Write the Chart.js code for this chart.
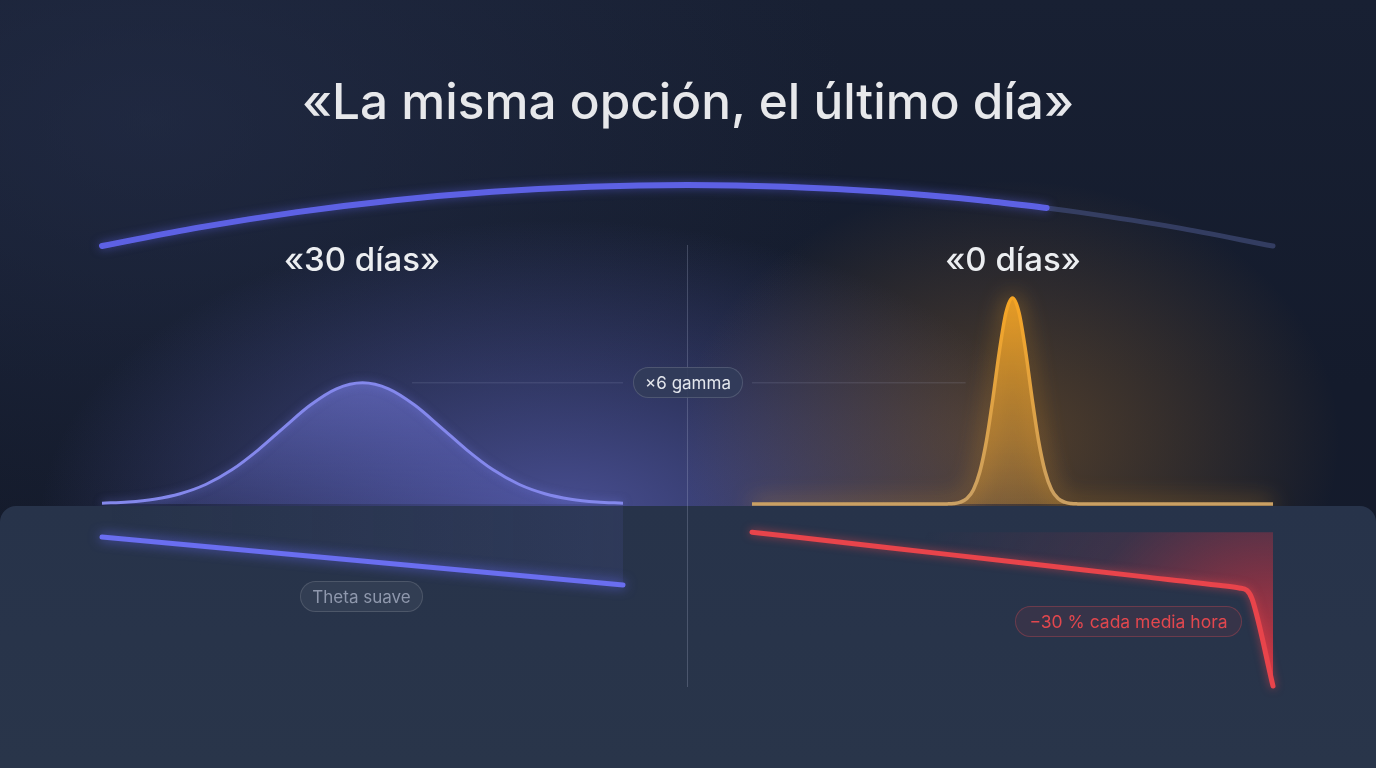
<!DOCTYPE html>
<html lang="es">
<head>
<meta charset="utf-8">
<title>La misma opción, el último día</title>
<script src="https://cdn.jsdelivr.net/npm/chart.js@4.4.1/dist/chart.umd.min.js"></script>
<style>
html, body { margin: 0; padding: 0; }
body {
    width: 1376px; height: 768px; overflow: hidden; position: relative;
    background: #151c2d;
    font-family: Inter, "Noto Sans", sans-serif;
}
#bg {
    position: absolute; left: 0; top: 0; width: 1376px; height: 768px; z-index: 0;
    background:
        radial-gradient(ellipse 330px 260px at 1010px 440px, rgba(214,140,45,0.32), rgba(214,140,45,0) 100%),
        radial-gradient(ellipse 520px 300px at 560px 520px, rgba(82,88,165,0.85), rgba(82,88,165,0) 100%),
        radial-gradient(ellipse 700px 420px at 150px 120px, rgba(40,50,80,0.5), rgba(40,50,80,0) 100%),
        linear-gradient(180deg, #182033 0%, #141b2c 50%, #151b2b 100%);
}
#panel {
    position: absolute; left: 0; top: 506px; width: 1376px; height: 262px; z-index: 2;
    background: linear-gradient(180deg, #27334a 0%, #29354a 100%);
    border-radius: 16px 16px 0 0;
}
#divider {
    position: absolute; left: 687px; top: 245px; width: 1px; height: 442px; z-index: 4;
    background: rgba(200,210,235,0.22);
}
canvas { position: absolute; }
#arcChart { left: 78px; top: 161px; z-index: 1; }
#gammaLeft { left: 78px; top: 274px; z-index: 1; }
#gammaRight { left: 728px; top: 274px; z-index: 1; }
#thetaLeft { left: 78px; top: 482px; z-index: 3; }
#thetaRight { left: 728px; top: 482px; z-index: 3; }
.txt { position: absolute; z-index: 5; white-space: nowrap; line-height: 1; }
#title { left: 0; width: 1376px; top: 77px; text-align: center; font-size: 49.5px; font-weight: 500; color: #e7e8eb; }
.head { top: 243px; width: 300px; text-align: center; font-size: 33px; font-weight: 500; color: #eceef1; }
#head30 { left: 212px; }
#head0 { left: 863px; }
.pill {
    position: absolute; z-index: 5; box-sizing: border-box; height: 31px;
    display: flex; align-items: center; justify-content: center;
    border-radius: 16px; font-size: 16px; white-space: nowrap;
}
#pillGamma { left: 633px; top: 367px; width: 110px; background: rgba(50,60,90,0.92); border: 1px solid rgba(255,255,255,0.14); color: #e3e6ec; font-size: 17px; }
#pillTheta { left: 300px; top: 581px; width: 123px; background: rgba(255,255,255,0.05); border: 1px solid rgba(255,255,255,0.13); color: #8f98ad; font-size: 17px; }
#pillDrop { left: 1015px; top: 606px; width: 227px; background: rgba(200,60,70,0.10); border: 1px solid rgba(220,75,85,0.32); color: #e2474e; font-size: 17.5px; }
</style>
</head>
<body>
<div id="bg"></div>
<canvas id="arcChart" width="1219" height="109"></canvas>
<canvas id="gammaLeft" width="569" height="254"></canvas>
<canvas id="gammaRight" width="569" height="254"></canvas>
<div id="panel"></div>
<canvas id="thetaLeft" width="569" height="228"></canvas>
<canvas id="thetaRight" width="569" height="228"></canvas>
<div id="divider"></div>

<div class="txt" id="title">«La misma opción, el último día»</div>
<div class="txt head" id="head30">«30 días»</div>
<div class="txt head" id="head0">«0 días»</div>
<div class="pill" id="pillGamma">×6 gamma</div>
<div class="pill" id="pillTheta">Theta suave</div>
<div class="pill" id="pillDrop">−30 % cada media hora</div>

<script>
// time arc across the top (days to expiry)
const arcDays = [30, 27.5, 25, 22.5, 20, 17.5, 15, 12.5, 10, 7.5, 5.8, 5, 2.5, 0];
const arcLevel = [0, 18.6, 33.9, 45.8, 54.2, 59.3, 61, 59.3, 54.2, 45.8, 38.1, 33.9, 18.6, 0];
const arcElapsedUntil = 5.8; // bright part ends here

// gamma vs strike distance (% from spot), 30 days left
const strikes30 = [-10, -9, -8, -7, -6, -5, -4, -3, -2, -1, 0, 1, 2, 3, 4, 5, 6, 7, 8, 9, 10];
const gamma30 = [0.007, 0.017, 0.04, 0.085, 0.163, 0.284, 0.447, 0.635, 0.817, 0.951, 1.0,
                 0.951, 0.817, 0.635, 0.447, 0.284, 0.163, 0.085, 0.04, 0.017, 0.007];
// gamma on the last day
const strikes0 = [-10, -5, -3, -2.5, -2.25, -2, -1.75, -1.5, -1.25, -1, -0.75, -0.5, -0.25, 0,
                  0.25, 0.5, 0.75, 1, 1.25, 1.5, 1.75, 2, 2.25, 2.5, 3, 5, 10];
const gamma0 = [0, 0, 0, 0.001, 0.004, 0.015, 0.045, 0.118, 0.268, 0.521, 0.873, 1.265, 1.579, 1.7,
                1.579, 1.265, 0.873, 0.521, 0.268, 0.118, 0.045, 0.015, 0.004, 0.001, 0, 0, 0];
const gammaMax = 1.7;

// option value vs % of the window elapsed
const time30 = [0, 50, 100];
const theta30 = [96.8, 81.2, 65.6];
const time0 = [0, 25, 50, 75, 90, 93.5, 95, 96, 100];
const theta0 = [100, 90.4, 80.7, 71.1, 65.3, 63.7, 62.2, 56.5, 0];
const thetaMax = 117;

const PAD = 24;

// glow under the stroke (fill is drawn before this by the filler)
Chart.register({
    id: 'glow',
    beforeDatasetDraw(chart, args) {
        const ds = chart.data.datasets[args.index];
        chart.ctx.save();
        if (ds.glow) {
            chart.ctx.shadowColor = ds.glow;
            chart.ctx.shadowBlur = ds.glowBlur || 14;
        }
    },
    afterDatasetDraw(chart) {
        chart.ctx.restore();
    }
});

function pts(xs, ys) {
    return xs.map((x, i) => ({ x: x, y: ys[i] }));
}

function makeChart(id, datasets, xMin, xMax, yMax, reverse) {
    return new Chart(document.getElementById(id), {
        type: 'line',
        data: { datasets: datasets },
        options: {
            responsive: false,
            animation: false,
            events: [],
            layout: { padding: PAD },
            plugins: { legend: { display: false }, tooltip: { enabled: false } },
            elements: { point: { radius: 0 } },
            scales: {
                x: { type: 'linear', display: false, min: xMin, max: xMax, reverse: !!reverse },
                y: { display: false, min: 0, max: yMax }
            }
        }
    });
}

// arc
const brightDays = arcDays.filter(d => d >= arcElapsedUntil);
const brightLevel = arcLevel.slice(0, brightDays.length);
makeChart('arcChart', [
    {
        data: pts(brightDays, brightLevel), borderColor: '#5d61e4', borderWidth: 6,
        borderCapStyle: 'round', cubicInterpolationMode: 'monotone', clip: false,
        glow: 'rgba(95,100,235,0.55)', glowBlur: 10
    },
    {
        data: pts(arcDays, arcLevel), borderColor: 'rgba(62,72,115,0.75)', borderWidth: 5,
        borderCapStyle: 'round', cubicInterpolationMode: 'monotone', clip: false
    }
], 0, 30, 61, true);

// gamma curves
const peakRef = Math.max(...gamma30);

function vGrad(ctx, area, top, bottom) {
    const g = ctx.createLinearGradient(0, area.top, 0, area.bottom);
    g.addColorStop(0, top);
    g.addColorStop(1, bottom);
    return g;
}

makeChart('gammaLeft', [
    {
        data: pts(strikes30, gamma30), borderColor: '#8488ec', borderWidth: 3,
        cubicInterpolationMode: 'monotone', clip: false, fill: 'origin',
        backgroundColor: c => c.chart.chartArea ? vGrad(c.chart.ctx, c.chart.chartArea, 'rgba(135,140,245,0.8)', 'rgba(100,106,205,0.25)') : 'rgba(0,0,0,0)',
        glow: 'rgba(120,125,240,0.5)', glowBlur: 8
    },
    {
        data: [{ x: 1.9, y: peakRef }, { x: 10, y: peakRef }],
        borderColor: 'rgba(200,210,240,0.16)', borderWidth: 1, clip: false
    }
], -10, 10, gammaMax);

makeChart('gammaRight', [
    {
        data: pts(strikes0, gamma0), borderWidth: 3.5,
        borderColor: c => c.chart.chartArea ? vGrad(c.chart.ctx, c.chart.chartArea, '#f6a524', '#caa063') : '#f6a524',
        cubicInterpolationMode: 'monotone', clip: false, fill: 'origin',
        backgroundColor: c => c.chart.chartArea ? vGrad(c.chart.ctx, c.chart.chartArea, 'rgba(246,165,36,0.9)', 'rgba(225,160,60,0.35)') : 'rgba(0,0,0,0)',
        glow: 'rgba(246,165,36,0.9)', glowBlur: 22
    },
    {
        data: [{ x: -10, y: peakRef }, { x: -1.8, y: peakRef }],
        borderColor: 'rgba(200,210,240,0.16)', borderWidth: 1, clip: false
    }
], -10, 10, gammaMax);

// theta lines
makeChart('thetaLeft', [
    {
        data: pts(time30, theta30), borderColor: '#6a6ef0', borderWidth: 5,
        borderCapStyle: 'round', tension: 0, clip: false,
        fill: { value: thetaMax },
        backgroundColor: c => {
            const a = c.chart.chartArea;
            if (!a) return 'rgba(0,0,0,0)';
            const g = c.chart.ctx.createLinearGradient(a.left, 0, a.right, 0);
            g.addColorStop(0, 'rgba(110,115,230,0)');
            g.addColorStop(1, 'rgba(110,115,230,0.10)');
            return g;
        },
        glow: 'rgba(100,105,245,0.8)', glowBlur: 12
    }
], 0, 100, thetaMax);

makeChart('thetaRight', [
    {
        data: pts(time0, theta0), borderColor: '#e8444b', borderWidth: 5,
        borderCapStyle: 'round', borderJoinStyle: 'round', cubicInterpolationMode: 'monotone', clip: false,
        fill: { value: theta0[0] },
        backgroundColor: c => {
            const a = c.chart.chartArea;
            if (!a) return 'rgba(0,0,0,0)';
            const g = c.chart.ctx.createRadialGradient(a.right, a.bottom, 0, a.right, a.bottom, 380);
            g.addColorStop(0, 'rgba(230,55,65,0.95)');
            g.addColorStop(0.3, 'rgba(205,50,65,0.5)');
            g.addColorStop(0.55, 'rgba(175,50,70,0.16)');
            g.addColorStop(1, 'rgba(160,50,75,0)');
            return g;
        },
        glow: 'rgba(232,68,75,0.6)', glowBlur: 8
    }
], 0, 100, thetaMax);
</script>
</body>
</html>
